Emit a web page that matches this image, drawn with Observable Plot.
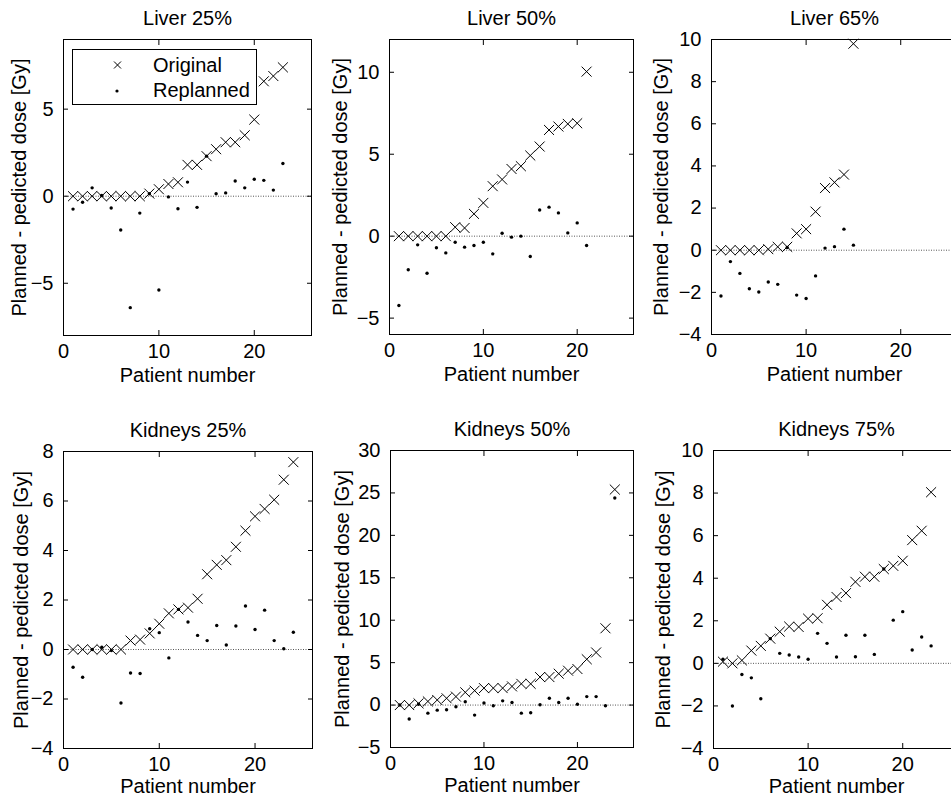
<!DOCTYPE html>
<html>
<head>
<meta charset="utf-8">
<script src="https://cdn.jsdelivr.net/npm/d3@7"></script>
<script src="https://cdn.jsdelivr.net/npm/@observablehq/plot@0.6"></script>
<style>
  html, body { margin: 0; padding: 0; background: white; }
  #page { position: relative; width: 951px; height: 806px; overflow: hidden; background: white; }
  .panel { position: absolute; }
  #legend { position: absolute; left: 72px; top: 49px; }
</style>
</head>
<body>
<div id="page"></div>
<script>
// ---- Data ----
const panelTitles = ["Liver 25%", "Liver 50%", "Liver 65%", "Kidneys 25%", "Kidneys 50%", "Kidneys 75%"];
const seriesNames = ["Original", "Replanned"];
const xLabel = "Patient number";
const yLabel = "Planned - pedicted dose [Gy]";
const xTicks = [0, 10, 20];

const liver25Original = [0,0,0,0,0,0,0,0,0.15,0.4,0.7,0.8,1.8,1.8,2.3,2.7,3.1,3.1,3.5,4.4,6.6,6.9,7.4];
const liver25Replanned = [-0.74,-0.35,0.48,0.04,-0.68,-1.94,-6.4,-0.97,0.14,-5.39,-0.04,-0.72,0.81,-0.64,2.3,0.14,0.19,0.87,0.48,0.97,0.91,0.35,1.88];

const liver50Original = [0,0,0,0,0,0,0.55,0.5,1.36,2.03,3.05,3.46,4.1,4.27,4.92,5.47,6.48,6.69,6.85,6.89,10.04];
const liver50Replanned = [-4.23,-2.05,-0.53,-2.26,-0.71,-1.02,-0.37,-0.67,-0.57,-0.37,-1.08,0.18,-0.06,0.0,-1.24,1.6,1.77,1.42,0.2,0.81,-0.57];

const liver65Original = [0,0,0,0,0,0.05,0.16,0.16,0.8,1.0,1.83,2.95,3.22,3.59,9.8];
const liver65Replanned = [-2.17,-0.54,-1.1,-1.83,-1.98,-1.51,-1.62,0.13,-2.13,-2.29,-1.22,0.1,0.17,1.0,0.24];

const kidneys25Original = [0,0,0,0,0,0,0.36,0.4,0.65,1.04,1.46,1.62,1.69,2.05,3.04,3.42,3.61,4.15,4.8,5.38,5.68,6.05,6.86,7.57];
const kidneys25Replanned = [-0.72,-1.12,0,0.09,-0.04,-2.16,-0.95,-0.97,0.84,0.68,-0.34,1.62,1.11,0.57,0.36,0.97,0.18,0.95,1.76,0.81,1.59,0.36,0.03,0.7];

const kidneys50Original = [0,0,0.2,0.43,0.6,0.8,1.0,1.5,1.7,2.0,2.0,2.0,2.2,2.5,2.5,3.3,3.3,3.7,4.05,4.25,5.4,6.2,9.05,25.4];
const kidneys50Replanned = [0,-1.65,0.1,-0.95,-0.6,-0.55,-0.2,0.4,-1.18,0.24,-0.08,0.5,0.3,-0.95,-0.9,0.04,0.8,0.3,0.8,0.1,1.0,1.0,-0.08,24.4];

const kidneys75Original = [0.08,0,0.14,0.6,0.82,1.16,1.49,1.73,1.71,2.1,2.12,2.75,3.12,3.3,3.83,4.07,4.07,4.43,4.58,4.82,5.79,6.23,8.04];
const kidneys75Replanned = [0.19,-2.0,-0.52,-0.68,-1.66,1.16,0.47,0.39,0.3,0.19,1.41,0.94,0.3,1.32,0.31,1.32,0.42,4.43,2.03,2.43,0.63,1.24,0.82];

const yDomains = [[-8, 9], [-6, 12], [-4, 10], [-4, 8], [-5, 30], [-4, 10]];
const yTickSets = [[-5,0,5], [-5,0,5,10], [-4,-2,0,2,4,6,8,10], [-4,-2,0,2,4,6,8], [-5,0,5,10,15,20,25,30], [-4,-2,0,2,4,6,8,10]];
const originals = [liver25Original, liver50Original, liver65Original, kidneys25Original, kidneys50Original, kidneys75Original];
const replanneds = [liver25Replanned, liver50Replanned, liver65Replanned, kidneys25Replanned, kidneys50Replanned, kidneys75Replanned];

// ---- Layout ----
const FONT = "'Liberation Sans', Arial, Helvetica, sans-serif";
const layouts = [
  {left: 0,   top: 0,   width: 317, height: 400, mL: 63, mR: 6,  mT: 39, mB: 65, yOff: 52, xOff: 46},
  {left: 317, top: 0,   width: 317, height: 400, mL: 72, mR: 1,  mT: 39, mB: 66, yOff: 57, xOff: 46},
  {left: 634, top: 0,   width: 330, height: 400, mL: 77, mR: 7,  mT: 39, mB: 66, yOff: 58, xOff: 46},
  {left: 0,   top: 400, width: 317, height: 406, mL: 63, mR: 5,  mT: 51, mB: 58, yOff: 50, xOff: 44},
  {left: 317, top: 400, width: 317, height: 406, mL: 73, mR: 1,  mT: 50, mB: 59, yOff: 56, xOff: 44},
  {left: 634, top: 400, width: 330, height: 406, mL: 79, mR: 5,  mT: 50, mB: 58, yOff: 58, xOff: 44}
];

const page = document.getElementById("page");

panelTitles.forEach((title, k) => {
  const L = layouts[k];
  const orig = originals[k].map((v, i) => ({patient: i + 1, value: v}));
  const repl = replanneds[k].map((v, i) => ({patient: i + 1, value: v}));
  const chart = Plot.plot({
    width: L.width,
    height: L.height,
    marginLeft: L.mL,
    marginRight: L.mR,
    marginTop: L.mT,
    marginBottom: L.mB,
    style: {fontFamily: FONT, fontSize: "20px", background: "white", color: "black", overflow: "visible"},
    x: {domain: [0, 26]},
    y: {domain: yDomains[k]},
    marks: [
      Plot.ruleY([0], {stroke: "#555", strokeWidth: 1, strokeDasharray: "1,1.5"}),
      Plot.axisX({anchor: "bottom", ticks: xTicks, tickSize: -5, tickPadding: 13, fontSize: 20,
        label: xLabel, labelAnchor: "center", labelArrow: "none", labelOffset: L.xOff}),
      Plot.axisX({anchor: "top", ticks: xTicks, tickSize: -5, tickFormat: () => "", label: null}),
      Plot.axisY({anchor: "left", ticks: yTickSets[k], tickSize: -5, tickPadding: 15, fontSize: 20,
        label: yLabel, labelAnchor: "center", labelArrow: "none", labelOffset: L.yOff}),
      Plot.axisY({anchor: "right", ticks: yTickSets[k], tickSize: -5, tickFormat: () => "", label: null}),
      Plot.frame({stroke: "black", strokeWidth: 1}),
      Plot.dot(orig, {x: "patient", y: "value", symbol: "times", r: 4.6, stroke: "black", strokeWidth: 1}),
      Plot.dot(repl, {x: "patient", y: "value", r: 1.7, fill: "black", stroke: "none"}),
      Plot.text([title], {frameAnchor: "top", dy: -21, fontSize: 20, fontWeight: "normal", lineAnchor: "middle", fill: "black"})
    ]
  });
  chart.classList.add("panel");
  chart.style.left = L.left + "px";
  chart.style.top = L.top + "px";
  page.appendChild(chart);
});

// ---- Legend (first panel) ----
const legend = d3.create("svg")
  .attr("id", "legend")
  .attr("width", 186)
  .attr("height", 57)
  .style("position", "absolute")
  .style("left", "72px")
  .style("top", "49px")
  .style("font-family", FONT)
  .style("font-size", "20px");
legend.append("rect").attr("x", 0.5).attr("y", 0.5).attr("width", 184).attr("height", 55)
  .attr("fill", "white").attr("stroke", "black");
const rows = legend.selectAll("g").data(seriesNames).join("g")
  .attr("transform", (d, i) => `translate(0,${16 + i * 25})`);
rows.filter((d, i) => i === 0).append("path")
  .attr("d", "M42,-3.5L49,3.5M42,3.5L49,-3.5").attr("stroke", "black").attr("fill", "none");
rows.filter((d, i) => i === 1).append("circle")
  .attr("cx", 45).attr("cy", 1).attr("r", 1.6).attr("fill", "black");
rows.append("text").attr("x", 81).attr("dy", "0.35em").text(d => d);
page.appendChild(legend.node());
</script>
</body>
</html>
